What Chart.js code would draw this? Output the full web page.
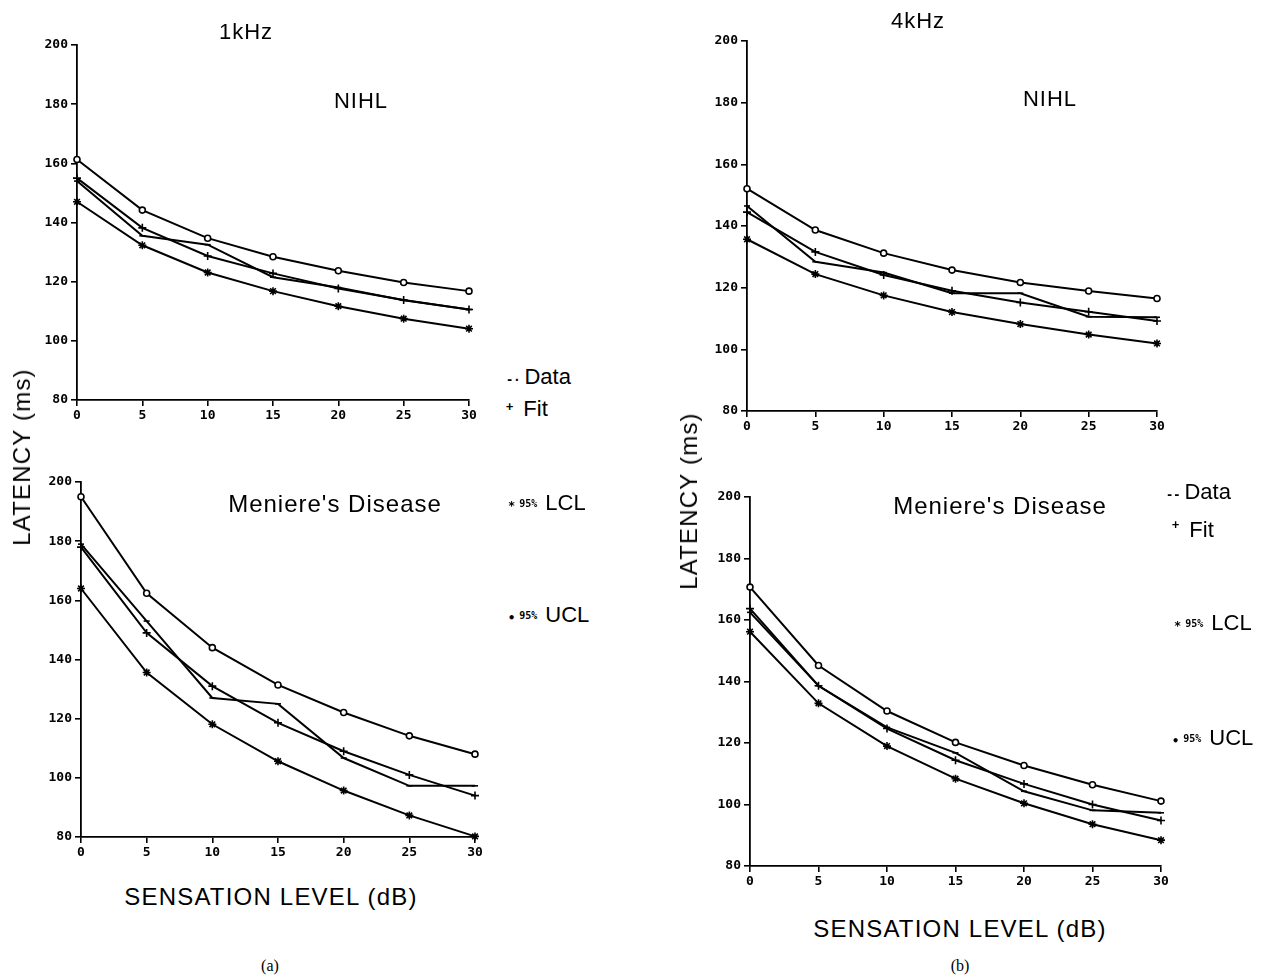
<!DOCTYPE html>
<html>
<head>
<meta charset="utf-8">
<script src="https://cdn.jsdelivr.net/npm/chart.js@4/dist/chart.umd.min.js"></script>
<style>
  body { margin: 0; background: #fff; width: 1285px; height: 977px; position: relative; overflow: hidden;
         font-family: "Liberation Sans", Arial, sans-serif; color: #000; }
  .panel { position: absolute; }
  .lbl { position: absolute; white-space: nowrap; transform: translate(-50%, -50%); letter-spacing: 1px; }
  .title { font-size: 22px; }
  .axis { font-size: 24px; letter-spacing: 1.2px; }
  .vert { transform: translate(-50%, -50%) rotate(-90deg); }
  .cap { font-family: "Liberation Serif", serif; font-size: 16px; letter-spacing: 0; }
  .key { position: absolute; white-space: nowrap; transform: translateY(-50%); font-size: 22px; }
  .key b { font: bold 12px "DejaVu Sans Mono", monospace; margin-right: 4px; }
  .key small { font: bold 10px "DejaVu Sans Mono", monospace; margin-right: 8px; vertical-align: 3px; }
</style>
</head>
<body>

<div id="p1" class="panel"><canvas></canvas></div>
<div id="p2" class="panel"><canvas></canvas></div>
<div id="p3" class="panel"><canvas></canvas></div>
<div id="p4" class="panel"><canvas></canvas></div>

<div class="lbl title" style="left:246px; top:32px;">1kHz</div>
<div class="lbl title" style="left:361px; top:101px;">NIHL</div>
<div class="lbl title" style="left:335px; top:504px; font-size:24px;">Meniere's Disease</div>
<div class="lbl axis" style="left:271px; top:897px;">SENSATION LEVEL (dB)</div>
<div class="lbl axis vert" style="left:22px; top:457px;">LATENCY (ms)</div>
<div class="lbl cap" style="left:270px; top:966px;">(a)</div>

<div class="lbl title" style="left:918px; top:21px;">4kHz</div>
<div class="lbl title" style="left:1050px; top:99px;">NIHL</div>
<div class="lbl title" style="left:1000px; top:506px; font-size:24px;">Meniere's Disease</div>
<div class="lbl axis" style="left:960px; top:929px;">SENSATION LEVEL (dB)</div>
<div class="lbl axis vert" style="left:689px; top:501px;">LATENCY (ms)</div>
<div class="lbl cap" style="left:960px; top:966px;">(b)</div>

<div class="key" style="left:506px; top:377px;"><b>-·</b>Data</div>
<div class="key" style="left:506px; top:409px;"><b style="vertical-align:5px;">+</b> Fit</div>
<div class="key" style="left:508px; top:503px;"><b>*</b><small>95%</small>LCL</div>
<div class="key" style="left:508px; top:615px;"><b>•</b><small>95%</small>UCL</div>

<div class="key" style="left:1166px; top:492px;"><b>--</b>Data</div>
<div class="key" style="left:1172px; top:530px;"><b style="vertical-align:8px;">+</b> Fit</div>
<div class="key" style="left:1174px; top:623px;"><b>*</b><small>95%</small>LCL</div>
<div class="key" style="left:1172px; top:738px;"><b>•</b><small>95%</small>UCL</div>

<script>
// sensation level (dB) and latency axis ticks (ms)
var levels = [0, 5, 10, 15, 20, 25, 30];
var latencyTicks = [80, 100, 120, 140, 160, 180, 200];

// 1 kHz, noise induced hearing loss
var nihl1kData = [154, 135.5, 132.5, 121.5, 118, 113.7, 110.6];
var nihl1kFit  = [155, 138.2, 128.7, 122.8, 117.7, 113.8, 110.6];
var nihl1kLcl  = [147, 132.3, 123.1, 116.8, 111.7, 107.5, 104.1];
var nihl1kUcl  = [161.3, 144.2, 134.7, 128.4, 123.7, 119.7, 116.8];

// 1 kHz, Meniere's disease
var men1kData = [179, 153, 127, 125, 106.7, 97.3, 97.3];
var men1kFit  = [178, 149, 131, 118.6, 109, 101, 94];
var men1kLcl  = [164, 135.6, 118.1, 105.6, 95.7, 87.3, 80.2];
var men1kUcl  = [195, 162.4, 144, 131.4, 122.1, 114.2, 108];

// 4 kHz, noise induced hearing loss
var nihl4kData = [146.5, 128.4, 124.9, 118.2, 118.2, 110.6, 110.4];
var nihl4kFit  = [144.5, 131.6, 124.1, 119, 115.2, 112.2, 109.2];
var nihl4kLcl  = [135.7, 124.4, 117.5, 112.1, 108.2, 104.8, 101.9];
var nihl4kUcl  = [152.1, 138.7, 131.2, 125.7, 121.7, 118.9, 116.5];

// 4 kHz, Meniere's disease
var men4kData = [162.5, 138.6, 125.1, 116.8, 104.3, 98.1, 97.3];
var men4kFit  = [163.7, 138.6, 124.7, 114.4, 106.7, 100, 94.8];
var men4kLcl  = [156.2, 132.9, 119, 108.4, 100.4, 93.6, 88.4];
var men4kUcl  = [170.7, 145.2, 130.4, 120.2, 112.7, 106.4, 101.1];

Chart.defaults.font.family = '"DejaVu Sans Mono", monospace';
Chart.defaults.font.weight = 'bold';
Chart.defaults.font.size = 13;
Chart.defaults.color = '#000';

var padL = 54, padR = 24, padT = 12, padB = 30;

function toPoints(values) {
  return values.map(function(v, i) { return {x: levels[i], y: v}; });
}

function series(values, style, radius) {
  return {
    data: toPoints(values),
    borderColor: '#000',
    borderWidth: 2,
    pointStyle: style,
    pointRadius: radius,
    pointBackgroundColor: '#fff',
    pointBorderColor: '#000',
    pointBorderWidth: 1.6,
    tension: 0,
    clip: false
  };
}

function axisStyle() {
  return {
    border: {display: true, color: '#000', width: 1.8},
    grid: {display: true, drawOnChartArea: false, drawTicks: true, tickLength: 6, color: '#000', lineWidth: 1.6}
  };
}

// box = plot area in page pixels [left, top, right, bottom]
function makePanel(id, box, data, fit, lcl, ucl) {
  var div = document.getElementById(id);
  div.style.left = (box[0] - padL) + 'px';
  div.style.top = (box[1] - padT) + 'px';
  div.style.width = (box[2] - box[0] + padL + padR) + 'px';
  div.style.height = (box[3] - box[1] + padT + padB) + 'px';

  var x = axisStyle();
  x.type = 'linear';
  x.min = 0;
  x.max = 30;
  x.ticks = {padding: 2, maxRotation: 0};
  x.afterBuildTicks = function(s) { s.ticks = levels.map(function(v) { return {value: v}; }); };
  x.afterFit = function(s) { s.height = padB; };

  var y = axisStyle();
  y.min = 80;
  y.max = 200;
  y.ticks = {padding: 3};
  y.afterBuildTicks = function(s) { s.ticks = latencyTicks.map(function(v) { return {value: v}; }); };
  y.afterFit = function(s) { s.width = padL; };

  return new Chart(div.querySelector('canvas'), {
    type: 'line',
    data: {
      datasets: [
        series(data, 'line', 3),
        series(fit, 'cross', 4),
        series(lcl, 'star', 4),
        series(ucl, 'circle', 3)
      ]
    },
    options: {
      responsive: true,
      maintainAspectRatio: false,
      animation: false,
      layout: {padding: {left: 0, right: padR, top: padT, bottom: 0}},
      plugins: {legend: {display: false}, tooltip: {enabled: false}},
      scales: {x: x, y: y}
    }
  });
}

makePanel('p1', [77, 45, 469, 400], nihl1kData, nihl1kFit, nihl1kLcl, nihl1kUcl);
makePanel('p2', [81, 482, 475, 837], men1kData, men1kFit, men1kLcl, men1kUcl);
makePanel('p3', [747, 41, 1157, 411], nihl4kData, nihl4kFit, nihl4kLcl, nihl4kUcl);
makePanel('p4', [750, 497, 1161, 866], men4kData, men4kFit, men4kLcl, men4kUcl);
</script>
</body>
</html>
